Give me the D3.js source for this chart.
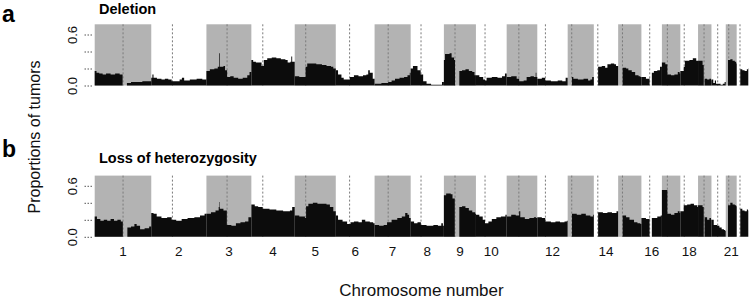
<!DOCTYPE html>
<html>
<head>
<meta charset="utf-8">
<script src="https://cdn.jsdelivr.net/npm/d3@7"></script>
<style>
  body { margin: 0; background: #fff; }
  svg { font-family: "Liberation Sans", Arial, sans-serif; }
</style>
</head>
<body>
<div id="chart"></div>
<script>
var width = 750, height = 303;

// chromosome sizes and centromeres, Mb (hg19)
var chromNames = d3.range(1, 23);
var chromLengths = [249.3, 243.2, 198.0, 191.2, 180.9, 171.1, 159.1, 146.4, 141.2, 135.5, 135.0,
                    133.9, 115.2, 107.3, 102.5, 90.4, 81.2, 78.1, 59.1, 63.0, 48.1, 51.3];
var centromeres = [125, 93.3, 91, 50.4, 48.4, 61, 59.9, 45.6, 49, 40.2, 53.7,
                   35.8, 17.9, 17.6, 19, 36.6, 24, 17.2, 26.5, 27.5, 13.2, 14.7];
var tickChroms = [1, 2, 3, 4, 5, 6, 7, 8, 9, 10, 12, 14, 16, 18, 21];
var yTicks = [0, 0.2, 0.4, 0.6];
var yLabelled = [0, 0.6];

// proportion of tumors, [position Mb, value]; null = no probes
var deletion = [
  [[0,0.17],[8,0.15],[20,0.14],[35,0.13],[50,0.14],[70,0.13],[90,0.14],[110,0.13],[123,null],[142,0.03],[160,0.04],[190,0.04],[210,0.05],[230,0.05]],
  [[0,0.09],[5,0.13],[10,0.09],[25,0.08],[45,0.07],[60,0.08],[75,0.07],[90,0.05],[110,0.05],[125,0.07],[135,0.09],[145,0.06],[170,0.07],[200,0.08],[225,0.07]],
  [[0,0.17],[15,0.19],[35,0.2],[50,0.22],[56,0.38],[59,0.22],[75,0.23],[82,0.18],[91,0.1],[105,0.11],[120,0.09],[140,0.08],[160,0.09],[180,0.12],[190,0.16]],
  [[0,0.3],[8,0.28],[20,0.27],[45,0.23],[55,0.3],[70,0.32],[90,0.33],[110,0.32],[130,0.31],[150,0.3],[160,0.27],[172,0.28],[176,0.34],[180,0.28]],
  [[0,0.11],[20,0.1],[40,0.1],[48,0.22],[55,0.26],[75,0.26],[95,0.25],[120,0.24],[140,0.23],[160,0.22],[170,0.2]],
  [[0,0.18],[10,0.13],[25,0.09],[35,0.07],[62,0.1],[80,0.12],[100,0.11],[120,0.12],[135,0.13],[143,0.18],[150,0.15],[163,0.08]],
  [[0,0.02],[30,0.03],[60,0.04],[75,0.06],[90,0.08],[110,0.09],[130,0.1],[145,0.12],[155,0.15]],
  [[0,0.2],[10,0.23],[30,0.18],[44,0.13],[55,0.05],[70,0.02],[90,0.01],[120,0.01],[138,0.04]],
  [[0,0.3],[5,0.37],[25,0.38],[34,0.33],[45,0.3],[49,null],[68,0.17],[80,0.18],[95,0.19],[110,0.17],[125,0.16],[135,0.12]],
  [[0,0.12],[15,0.1],[32,0.07],[40,0.06],[47,0.09],[70,0.1],[95,0.09],[115,0.11],[128,0.14]],
  [[0,0.1],[20,0.11],[44,0.08],[55,0.05],[75,0.06],[88,0.1],[105,0.11],[120,0.1],[128,0.15],[131,0.1]],
  [[0,0.08],[20,0.09],[35,0.06],[60,0.05],[90,0.06],[110,0.05],[125,0.09]],
  [[19,0.1],[25,0.08],[45,0.07],[70,0.08],[90,0.06],[100,0.07],[108,0.1]],
  [[19,0.22],[35,0.23],[50,0.21],[60,0.25],[75,0.26],[90,0.25],[98,0.23]],
  [[20,0.21],[35,0.2],[45,0.18],[60,0.16],[75,0.12],[90,0.11],[98,0.1]],
  [[0,0.1],[20,0.08],[35,0.09],[36,null],[46,0.15],[55,0.17],[70,0.18],[82,0.22]],
  [[0,0.27],[15,0.25],[24,0.13],[40,0.12],[55,0.13],[70,0.16],[78,0.14]],
  [[0,0.17],[15,0.22],[20,0.29],[40,0.3],[55,0.32],[70,0.29]],
  [[0,0.29],[20,0.24],[25,null],[29,0.08],[40,0.07],[50,0.08],[57,0.06]],
  [[0,0.07],[8,0.03],[15,0.06],[20,0.02],[30,0.02],[40,0.01],[50,0.02],[58,0.04]],
  [[10,0.3],[20,0.31],[30,0.29],[40,0.28],[46,0.26]],
  [[16,0.19],[25,0.18],[35,0.17],[45,0.19],[50,0.2]]
];

var loh = [
  [[0,0.24],[10,0.21],[25,0.19],[40,0.2],[55,0.19],[70,0.21],[85,0.19],[100,0.2],[115,0.18],[124,null],[144,0.11],[160,0.12],[175,0.15],[185,0.13],[200,0.09],[220,0.1],[240,0.12]],
  [[0,0.28],[10,0.27],[24,0.24],[45,0.22],[70,0.23],[90,0.2],[110,0.19],[134,0.21],[160,0.22],[190,0.23],[215,0.25],[235,0.27]],
  [[0,0.27],[20,0.29],[40,0.31],[54,0.35],[57,0.41],[59,0.33],[75,0.31],[90,0.14],[110,0.13],[130,0.16],[150,0.17],[170,0.18],[185,0.23]],
  [[0,0.38],[15,0.36],[30,0.35],[50,0.33],[80,0.32],[110,0.31],[140,0.3],[170,0.31],[180,0.35]],
  [[0,0.25],[20,0.24],[45,0.22],[50,0.36],[60,0.39],[80,0.4],[100,0.39],[120,0.39],[140,0.38],[155,0.35],[170,0.3]],
  [[0,0.25],[10,0.2],[30,0.18],[50,0.15],[65,0.17],[80,0.18],[100,0.17],[115,0.2],[130,0.18],[150,0.17],[165,0.16]],
  [[0,0.14],[20,0.13],[40,0.14],[55,0.17],[75,0.2],[100,0.22],[120,0.24],[135,0.28],[145,0.26],[152,0.22]],
  [[0,0.18],[15,0.16],[30,0.17],[45,0.14],[70,0.13],[100,0.14],[120,0.13],[135,0.16],[142,0.13]],
  [[0,0.49],[10,0.51],[30,0.5],[38,0.45],[48,null],[68,0.35],[80,0.36],[95,0.34],[110,0.31],[125,0.29],[138,0.27]],
  [[0,0.26],[15,0.24],[30,0.2],[40,0.16],[55,0.18],[70,0.21],[90,0.23],[110,0.24],[130,0.26]],
  [[0,0.24],[20,0.26],[40,0.25],[55,0.3],[60,0.23],[80,0.21],[100,0.22],[120,0.23],[130,0.22]],
  [[0,0.23],[20,0.22],[35,0.18],[60,0.17],[80,0.18],[100,0.17],[120,0.18],[130,0.19]],
  [[19,0.27],[40,0.26],[60,0.27],[80,0.25],[100,0.24],[112,0.26]],
  [[19,0.29],[40,0.28],[60,0.29],[80,0.28],[100,0.3]],
  [[20,0.25],[35,0.23],[50,0.2],[70,0.17],[85,0.16],[98,0.15]],
  [[0,0.22],[20,0.21],[35,0.23],[36,null],[46,0.22],[70,0.24],[85,0.25]],
  [[0,0.55],[20,0.55],[24,0.27],[40,0.26],[55,0.28],[70,0.3],[78,0.28]],
  [[0,0.3],[15,0.37],[30,0.38],[45,0.39],[60,0.37],[75,0.35]],
  [[0,0.37],[20,0.35],[25,null],[29,0.23],[40,0.2],[50,0.22],[57,0.2]],
  [[0,0.2],[10,0.14],[25,0.13],[35,0.11],[45,0.09],[55,0.08],[60,0.07]],
  [[10,0.37],[20,0.4],[30,0.38],[40,0.37],[46,0.36]],
  [[16,0.33],[25,0.31],[35,0.3],[45,0.32],[50,0.31]]
];

var offsets = [];
chromLengths.reduce(function (acc, l) { offsets.push(acc); return acc + l; }, 0);
var total = d3.sum(chromLengths);

var x = d3.scaleLinear().domain([0, total]).range([94.7, 748.3]);

var svg = d3.select("#chart").append("svg")
    .attr("width", width)
    .attr("height", height);

// split a chromosome's points into runs, closing each step at the gap / chromosome end
function runs(points, len) {
    var out = [], cur = null;
    points.forEach(function (p) {
        if (p[1] == null) {
            if (cur) { cur.push([p[0], cur[cur.length - 1][1]]); out.push(cur); cur = null; }
        } else {
            if (!cur) cur = [];
            cur.push(p);
        }
    });
    if (cur) { cur.push([len, cur[cur.length - 1][1]]); out.push(cur); }
    return out;
}

var panels = [
    { letter: "a", title: "Deletion", data: deletion, base: 85.5, letterY: 22, titleY: 13.5 },
    { letter: "b", title: "Loss of heterozygosity", data: loh, base: 236.8, letterY: 157, titleY: 163 }
];

panels.forEach(function (panel) {
    var y = d3.scaleLinear().domain([0, 0.72]).range([panel.base, panel.base - 0.72 * 85]);
    var g = svg.append("g");

    // alternating chromosome shading
    g.selectAll(".band")
        .data(chromNames.filter(function (c) { return c % 2 === 1; }))
        .enter().append("rect")
        .attr("x", function (c) { return x(offsets[c - 1]); })
        .attr("width", function (c) { return x(offsets[c - 1] + chromLengths[c - 1]) - x(offsets[c - 1]); })
        .attr("y", y(0.72))
        .attr("height", y(0) - y(0.72))
        .attr("fill", "#b3b3b3");

    // centromeres
    g.selectAll(".cen")
        .data(chromNames)
        .enter().append("line")
        .attr("x1", function (c) { return x(offsets[c - 1] + centromeres[c - 1]); })
        .attr("x2", function (c) { return x(offsets[c - 1] + centromeres[c - 1]); })
        .attr("y1", y(0.72))
        .attr("y2", y(0))
        .attr("stroke", "#7a7a7a")
        .attr("stroke-width", 1)
        .attr("stroke-dasharray", "2,2");

    chromNames.forEach(function (c, i) {
        var area = d3.area()
            .curve(d3.curveStepAfter)
            .x(function (d) { return x(offsets[i] + d[0]); })
            .y0(y(0))
            .y1(function (d) { return y(d[1]); });
        g.selectAll(null)
            .data(runs(panel.data[i], chromLengths[i]))
            .enter().append("path")
            .attr("d", area)
            .attr("fill", "#0c0c0c");
    });

    // y axis: dotted ticks, only 0.0 and 0.6 labelled
    var yAxis = d3.axisLeft(y)
        .tickValues(yTicks)
        .tickSize(9)
        .tickFormat(function (d) { return yLabelled.indexOf(d) >= 0 ? d3.format(".1f")(d) : ""; });
    var ag = g.append("g")
        .attr("transform", "translate(92,0)")
        .call(yAxis);
    ag.select(".domain").remove();
    ag.selectAll(".tick line")
        .attr("stroke", "#555")
        .attr("stroke-dasharray", "1.5,1.5");
    ag.selectAll(".tick text")
        .attr("transform", "rotate(-90)")
        .attr("x", 0)
        .attr("y", -15)
        .attr("dy", 0)
        .attr("text-anchor", "middle")
        .style("font-size", "13px")
        .attr("fill", "#111");

    g.append("text")
        .attr("x", 2)
        .attr("y", panel.letterY)
        .style("font-size", "23px")
        .style("font-weight", "bold")
        .text(panel.letter);

    g.append("text")
        .attr("x", 99)
        .attr("y", panel.titleY)
        .style("font-size", "14.5px")
        .style("font-weight", "bold")
        .text(panel.title);
});

// chromosome labels
svg.selectAll(".xlab")
    .data(tickChroms)
    .enter().append("text")
    .attr("x", function (c) { return x(offsets[c - 1] + chromLengths[c - 1] / 2); })
    .attr("y", 256)
    .attr("text-anchor", "middle")
    .style("font-size", "13.5px")
    .attr("fill", "#111")
    .text(function (c) { return c; });

svg.append("text")
    .attr("x", 421.5)
    .attr("y", 296)
    .attr("text-anchor", "middle")
    .style("font-size", "17px")
    .attr("fill", "#111")
    .text("Chromosome number");

svg.append("text")
    .attr("transform", "translate(40,137) rotate(-90)")
    .attr("text-anchor", "middle")
    .style("font-size", "16px")
    .attr("fill", "#111")
    .text("Proportions of tumors");
</script>
</body>
</html>
